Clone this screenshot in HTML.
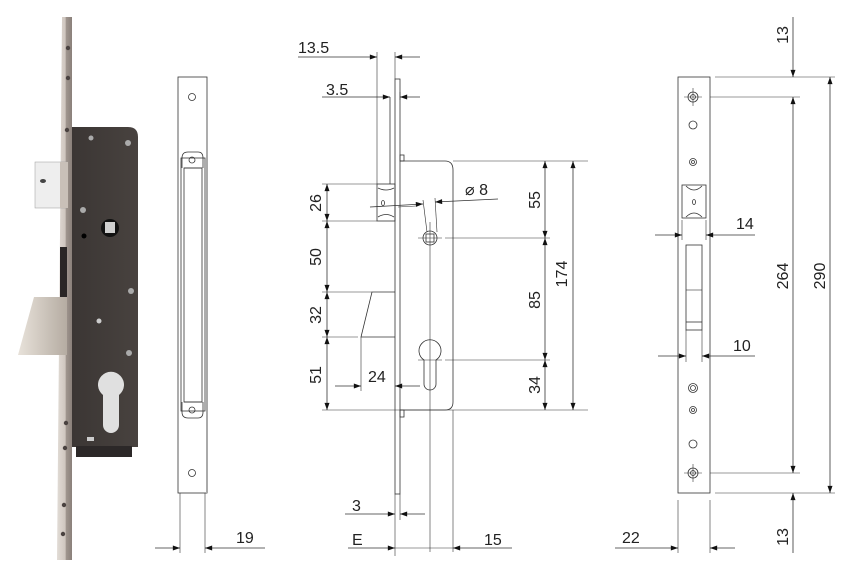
<!DOCTYPE html>
<html><head><meta charset="utf-8"><style>
html,body{margin:0;padding:0;background:#fff;}
svg{display:block;}
text{font-family:"Liberation Sans",sans-serif;font-size:16px;fill:#222;}
</style></head><body>
<svg width="863" height="580" viewBox="0 0 863 580" xmlns="http://www.w3.org/2000/svg">
<defs>
<marker id="a" viewBox="0 0 10 7" refX="10" refY="3.5" markerWidth="10" markerHeight="5" markerUnits="userSpaceOnUse" orient="auto"><path d="M0,0 L10,3.5 L0,7z" fill="#111"/></marker>
<linearGradient id="fp" x1="0" x2="1"><stop offset="0" stop-color="#e2dcd6"/><stop offset="0.55" stop-color="#cfc6bf"/><stop offset="0.6" stop-color="#a0968f"/><stop offset="1" stop-color="#8a807a"/></linearGradient>
<linearGradient id="bd" x1="0" x2="1"><stop offset="0" stop-color="#3b3634"/><stop offset="1" stop-color="#48423f"/></linearGradient>
<linearGradient id="bolt" x1="0" x2="1"><stop offset="0" stop-color="#e8e2da"/><stop offset="1" stop-color="#b5aca2"/></linearGradient>
</defs>

<!-- ===== Photo ===== -->
<path d="M72,127 L128,127 Q138,127 138,137 L138,447 L72,447z" fill="url(#bd)"/>
<rect x="76" y="446" width="56" height="11" fill="#2c2828"/>
<polygon points="62,17 72,17 72,560 57,560" fill="url(#fp)"/>
<rect x="35" y="162" width="32" height="46" fill="#eeeeee" stroke="#999" stroke-width="0.5"/>
<rect x="60" y="162" width="8" height="46" fill="#c9c0b8"/>
<ellipse cx="43" cy="181" rx="3" ry="2" fill="#444"/>
<polygon points="34,297 67,297 67,355 18,355" fill="url(#bolt)"/>
<rect x="60" y="247" width="7" height="50" fill="#2a2626"/>
<circle cx="110" cy="228" r="9" fill="#111"/>
<rect x="105" y="222" width="10" height="11" fill="#cfcfcf"/>
<circle cx="84" cy="236" r="2.5" fill="#000"/>
<circle cx="91" cy="138" r="2.5" fill="#aaa"/><circle cx="128" cy="143" r="3" fill="#aaa"/>
<circle cx="83" cy="210" r="3" fill="#aaa"/><circle cx="131" cy="291" r="3" fill="#aaa"/>
<circle cx="99" cy="321" r="2.5" fill="#ccc"/><circle cx="129" cy="353" r="3" fill="#aaa"/>
<path d="M103,395 a13,13 0 1 1 16,0 l0,30 a8,8 0 0 1 -16,0z" fill="#e0e0e0"/>
<rect x="87" y="437" width="7" height="4" fill="#ccc"/>
<g fill="#4a4240"><circle cx="68" cy="48" r="2.2"/><circle cx="68" cy="78" r="2.2"/><circle cx="67" cy="130" r="2.2"/><circle cx="66" cy="423" r="2.2"/><circle cx="65" cy="448" r="2.2"/><circle cx="64" cy="505" r="2.2"/><circle cx="63" cy="534" r="2.2"/></g>

<g stroke="#333" stroke-width="0.8" fill="none">
<!-- ===== View 2 ===== -->
<rect x="178" y="77" width="29" height="416" fill="#fff"/>
<line x1="207" y1="155" x2="207" y2="493" stroke="#aaa" stroke-width="2"/>
<circle cx="192" cy="97" r="3.5"/><circle cx="192" cy="473" r="3.5"/>
<path d="M182,168 L182,158 Q182,152 188,152 L198,152 Q203,152 203,158 L203,168"/>
<path d="M182,402 L182,412 Q182,418 188,418 L198,418 Q203,418 203,412 L203,402"/>
<rect x="181" y="158" width="24" height="253"/>
<line x1="184" y1="168" x2="202" y2="168"/><line x1="184" y1="402" x2="202" y2="402"/>
<rect x="184" y="168" width="18" height="234"/>
<circle cx="192" cy="160" r="3"/><circle cx="192" cy="410" r="3"/>
<line x1="180" y1="493" x2="180" y2="553" stroke-width="0.6"/><line x1="205" y1="493" x2="205" y2="553" stroke-width="0.6"/>
<line x1="155" y1="548" x2="180" y2="548" marker-end="url(#a)"/>
<line x1="265" y1="548" x2="205" y2="548" marker-end="url(#a)"/>

<!-- ===== View 3 (middle) ===== -->
<rect x="395" y="79" width="5" height="415" fill="#fff"/>
<path d="M400,161 L445,161 Q453,161 453,170 L453,402 Q453,410 445,410 L400,410"/>
<rect x="400" y="155" width="4" height="6"/><rect x="400" y="410" width="4" height="7"/>
<rect x="377" y="184" width="18" height="37"/>
<path d="M378,188 Q386,192 394,188 M378,217 Q386,212 394,217"/>
<ellipse cx="383" cy="203" rx="1.5" ry="2.5"/>
<line x1="390" y1="97" x2="390" y2="184"/>
<line x1="377" y1="52" x2="377" y2="184" stroke-width="0.6"/>
<line x1="395" y1="52" x2="395" y2="79" stroke-width="0.6"/>
<line x1="400" y1="92" x2="400" y2="100" stroke-width="0.6"/>
<path d="M395,292 L372,292 L361,337 L395,337"/>
<line x1="361" y1="337" x2="361" y2="391" stroke-width="0.6"/>
<circle cx="430" cy="238" r="7"/><rect x="426" y="234" width="8" height="8"/>
<line x1="418" y1="238" x2="442" y2="238" stroke-width="0.6"/>
<path d="M424,360 a11,11 0 1 1 12,0 l0,24 a6,6 0 0 1 -12,0z"/>
<line x1="418" y1="360" x2="442" y2="360" stroke-width="0.6"/>
<line x1="430" y1="222" x2="430" y2="552" stroke-width="0.6"/>
<line x1="453" y1="410" x2="453" y2="552" stroke-width="0.6"/>
<line x1="427" y1="232" x2="423" y2="200" stroke-width="0.6"/><line x1="437" y1="232" x2="435" y2="198" stroke-width="0.6"/>
<line x1="398" y1="207" x2="416" y2="206" stroke-width="0.6"/>
<line x1="370" y1="207" x2="423" y2="204" marker-end="url(#a)"/>
<line x1="498" y1="199" x2="435" y2="202" marker-end="url(#a)"/>
<line x1="453" y1="161" x2="588" y2="161" stroke-width="0.6"/>
<line x1="445" y1="238" x2="550" y2="238" stroke-width="0.6"/>
<line x1="445" y1="360" x2="550" y2="360" stroke-width="0.6"/>
<line x1="322" y1="410" x2="588" y2="410" stroke-width="0.6"/>
<line x1="545" y1="200" x2="545" y2="161" marker-end="url(#a)"/><line x1="545" y1="200" x2="545" y2="238" marker-end="url(#a)"/>
<line x1="545" y1="300" x2="545" y2="238" marker-end="url(#a)"/><line x1="545" y1="300" x2="545" y2="360" marker-end="url(#a)"/>
<line x1="545" y1="385" x2="545" y2="360" marker-end="url(#a)"/><line x1="545" y1="385" x2="545" y2="410" marker-end="url(#a)"/>
<line x1="573" y1="285" x2="573" y2="161" marker-end="url(#a)"/><line x1="573" y1="285" x2="573" y2="410" marker-end="url(#a)"/>
<line x1="322" y1="184" x2="377" y2="184" stroke-width="0.6"/>
<line x1="322" y1="221" x2="377" y2="221" stroke-width="0.6"/>
<line x1="322" y1="292" x2="372" y2="292" stroke-width="0.6"/>
<line x1="322" y1="337" x2="358" y2="337" stroke-width="0.6"/>
<line x1="327" y1="202" x2="327" y2="184" marker-end="url(#a)"/><line x1="327" y1="202" x2="327" y2="221" marker-end="url(#a)"/>
<line x1="327" y1="256" x2="327" y2="221" marker-end="url(#a)"/><line x1="327" y1="256" x2="327" y2="292" marker-end="url(#a)"/>
<line x1="327" y1="314" x2="327" y2="292" marker-end="url(#a)"/><line x1="327" y1="314" x2="327" y2="337" marker-end="url(#a)"/>
<line x1="327" y1="373" x2="327" y2="337" marker-end="url(#a)"/><line x1="327" y1="373" x2="327" y2="410" marker-end="url(#a)"/>
<line x1="335" y1="386" x2="361" y2="386" marker-end="url(#a)"/>
<line x1="420" y1="386" x2="395" y2="386" marker-end="url(#a)"/>
<line x1="298" y1="57" x2="377" y2="57" marker-end="url(#a)"/>
<line x1="420" y1="57" x2="395" y2="57" marker-end="url(#a)"/>
<line x1="322" y1="97" x2="390" y2="97" marker-end="url(#a)"/>
<line x1="420" y1="97" x2="400" y2="97" marker-end="url(#a)"/>
<line x1="395" y1="494" x2="395" y2="556" stroke-width="0.6"/><line x1="400" y1="494" x2="400" y2="520" stroke-width="0.6"/>
<line x1="345" y1="514" x2="395" y2="514" marker-end="url(#a)"/>
<line x1="425" y1="514" x2="400" y2="514" marker-end="url(#a)"/>
<line x1="348" y1="548" x2="395" y2="548" marker-end="url(#a)"/>
<line x1="395" y1="548" x2="453" y2="548" stroke-width="0.6"/>
<line x1="512" y1="548" x2="453" y2="548" marker-end="url(#a)"/>

<!-- ===== View 4 (right) ===== -->
<rect x="678" y="77" width="32" height="416" fill="#fff"/>
<circle cx="693" cy="97" r="5"/><circle cx="693" cy="97" r="2.5"/>
<line x1="684" y1="97" x2="702" y2="97" stroke-width="0.6"/><line x1="693" y1="88" x2="693" y2="106" stroke-width="0.6"/>
<circle cx="693" cy="473" r="5"/><circle cx="693" cy="473" r="2.5"/>
<line x1="684" y1="473" x2="702" y2="473" stroke-width="0.6"/><line x1="693" y1="464" x2="693" y2="482" stroke-width="0.6"/>
<circle cx="693" cy="125" r="4"/><circle cx="693" cy="162" r="3.5"/><circle cx="693" cy="162" r="1.5"/>
<rect x="682" y="185" width="24" height="33"/>
<path d="M686,186 Q694,194 702,186 M686,217 Q694,209 702,217"/>
<ellipse cx="694" cy="202" rx="1.5" ry="2.5"/>
<rect x="686" y="245" width="16" height="85"/>
<line x1="686" y1="290" x2="702" y2="290" stroke-width="0.6"/><line x1="686" y1="322" x2="702" y2="322"/>
<circle cx="693" cy="388" r="4.5"/><circle cx="693" cy="388" r="2.5"/>
<circle cx="693" cy="410" r="3.5"/><circle cx="693" cy="410" r="1.5"/>
<circle cx="693" cy="444" r="4"/>
<line x1="682" y1="220" x2="682" y2="240" stroke-width="0.6"/><line x1="706" y1="220" x2="706" y2="240" stroke-width="0.6"/>
<line x1="655" y1="235" x2="682" y2="235" marker-end="url(#a)"/>
<line x1="755" y1="235" x2="706" y2="235" marker-end="url(#a)"/>
<line x1="686" y1="330" x2="686" y2="362" stroke-width="0.6"/><line x1="702" y1="330" x2="702" y2="362" stroke-width="0.6"/>
<line x1="658" y1="356" x2="686" y2="356" marker-end="url(#a)"/>
<line x1="755" y1="356" x2="702" y2="356" marker-end="url(#a)"/>
<line x1="678" y1="500" x2="678" y2="553" stroke-width="0.6"/><line x1="710" y1="500" x2="710" y2="553" stroke-width="0.6"/>
<line x1="615" y1="548" x2="678" y2="548" marker-end="url(#a)"/>
<line x1="735" y1="548" x2="710" y2="548" marker-end="url(#a)"/>
<line x1="715" y1="77" x2="835" y2="77" stroke-width="0.6"/>
<line x1="715" y1="493" x2="835" y2="493" stroke-width="0.6"/>
<line x1="710" y1="97" x2="800" y2="97" stroke-width="0.6"/>
<line x1="710" y1="473" x2="800" y2="473" stroke-width="0.6"/>
<line x1="793" y1="17" x2="793" y2="77" marker-end="url(#a)"/>
<line x1="793" y1="285" x2="793" y2="97" marker-end="url(#a)"/><line x1="793" y1="285" x2="793" y2="473" marker-end="url(#a)"/>
<line x1="793" y1="553" x2="793" y2="493" marker-end="url(#a)"/>
<line x1="830" y1="285" x2="830" y2="77" marker-end="url(#a)"/><line x1="830" y1="285" x2="830" y2="493" marker-end="url(#a)"/>
</g>

<!-- Labels -->
<text x="236" y="543">19</text>
<text x="298" y="53">13.5</text>
<text x="326" y="95">3.5</text>
<text x="465" y="195">⌀ 8</text>
<text x="368" y="382">24</text>
<text x="352" y="511">3</text>
<text x="352" y="545">E</text>
<text x="484" y="545">15</text>
<g text-anchor="middle">
<text transform="translate(321,203) rotate(-90)">26</text>
<text transform="translate(321,257) rotate(-90)">50</text>
<text transform="translate(321,315) rotate(-90)">32</text>
<text transform="translate(321,375) rotate(-90)">51</text>
<text transform="translate(540,200) rotate(-90)">55</text>
<text transform="translate(540,300) rotate(-90)">85</text>
<text transform="translate(540,385) rotate(-90)">34</text>
<text transform="translate(567,274) rotate(-90)">174</text>
<text transform="translate(788,35) rotate(-90)">13</text>
<text transform="translate(788,276) rotate(-90)">264</text>
<text transform="translate(825,276) rotate(-90)">290</text>
<text transform="translate(788,537) rotate(-90)">13</text>
</g>
<text x="736" y="229">14</text>
<text x="733" y="351">10</text>
<text x="622" y="543">22</text>
</svg>
</body></html>
